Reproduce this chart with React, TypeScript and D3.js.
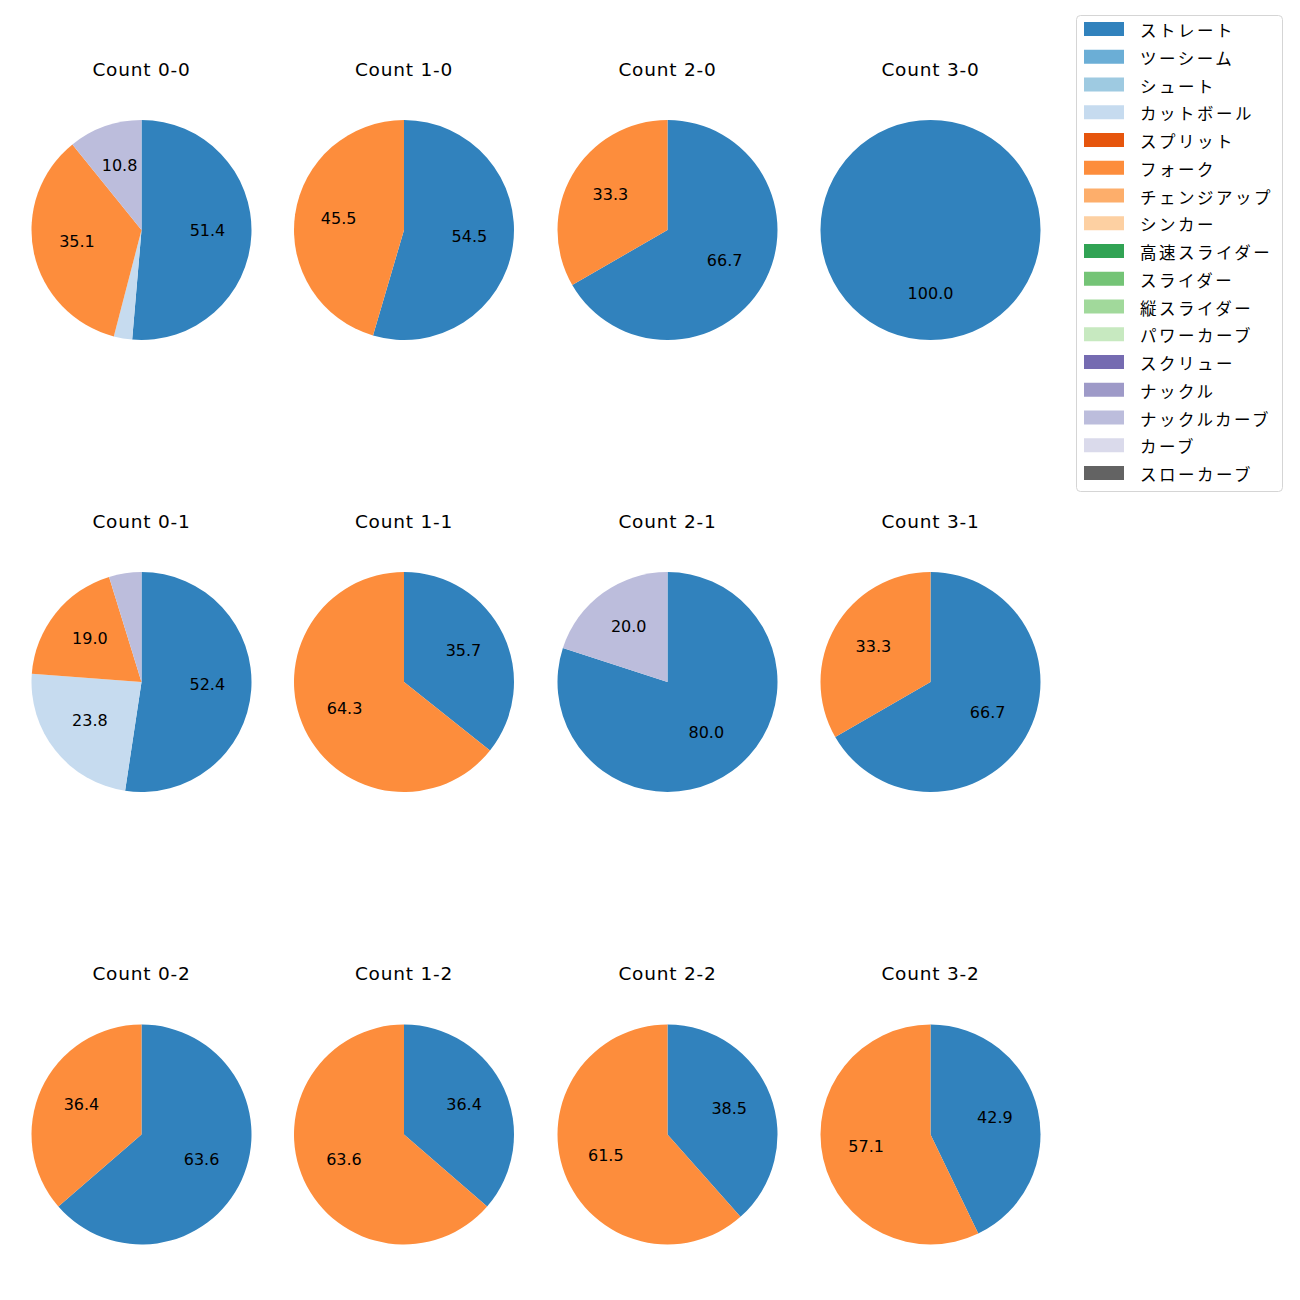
import React from "react";
import * as d3 from "d3";

const pitchTypes = [
  "ストレート", "ツーシーム", "シュート", "カットボール", "スプリット", "フォーク",
  "チェンジアップ", "シンカー", "高速スライダー", "スライダー", "縦スライダー",
  "パワーカーブ", "スクリュー", "ナックル", "ナックルカーブ", "カーブ", "スローカーブ",
];
const pitchColors = [
  "#3182bd", "#6baed6", "#9ecae1", "#c6dbef", "#e6550d", "#fd8d3c", "#fdae6b",
  "#fdd0a2", "#31a354", "#74c476", "#a1d99b", "#c7e9c0", "#756bb1", "#9e9ac8",
  "#bcbddc", "#dadaeb", "#636363",
];

const countTitles = [
  "Count 0-0", "Count 1-0", "Count 2-0", "Count 3-0",
  "Count 0-1", "Count 1-1", "Count 2-1", "Count 3-1",
  "Count 0-2", "Count 1-2", "Count 2-2", "Count 3-2",
];
// pitch counts per count situation (slices in legend order, clockwise from top)
const countPitches: { type: string; n: number }[][] = [
  [{ type: "ストレート", n: 19 }, { type: "カットボール", n: 1 }, { type: "フォーク", n: 13 }, { type: "ナックルカーブ", n: 4 }],
  [{ type: "ストレート", n: 6 }, { type: "フォーク", n: 5 }],
  [{ type: "ストレート", n: 2 }, { type: "フォーク", n: 1 }],
  [{ type: "ストレート", n: 1 }],
  [{ type: "ストレート", n: 11 }, { type: "カットボール", n: 5 }, { type: "フォーク", n: 4 }, { type: "ナックルカーブ", n: 1 }],
  [{ type: "ストレート", n: 5 }, { type: "フォーク", n: 9 }],
  [{ type: "ストレート", n: 4 }, { type: "ナックルカーブ", n: 1 }],
  [{ type: "ストレート", n: 2 }, { type: "フォーク", n: 1 }],
  [{ type: "ストレート", n: 7 }, { type: "フォーク", n: 4 }],
  [{ type: "ストレート", n: 4 }, { type: "フォーク", n: 7 }],
  [{ type: "ストレート", n: 5 }, { type: "フォーク", n: 8 }],
  [{ type: "ストレート", n: 3 }, { type: "フォーク", n: 4 }],
];

const colCenters = [141.5, 404, 667.5, 930.5];
const rowCenters = [230, 682, 1134.5];
const R = 110;
const JP_FONT = "'Noto Sans CJK JP', 'Noto Sans', sans-serif";
const LATIN_FONT = "'DejaVu Sans', sans-serif";

const color = d3.scaleOrdinal<string, string>().domain(pitchTypes).range(pitchColors);

export default function App() {
  const pie = d3
    .pie<{ type: string; n: number }>()
    .value((d) => d.n)
    .sort(null)
    .startAngle(0)
    .endAngle(2 * Math.PI);
  const arc = d3.arc<d3.PieArcDatum<{ type: string; n: number }>>().innerRadius(0).outerRadius(R);
  const labelArc = d3.arc<d3.PieArcDatum<{ type: string; n: number }>>().innerRadius(R * 0.6).outerRadius(R * 0.6);

  return (
    <svg width={1300} height={1300} style={{ position: "absolute", left: 0, top: 0 }}>
      <rect width={1300} height={1300} fill="#fff" />
      {countPitches.map((data, i) => {
        const cx = colCenters[i % 4];
        const cy = rowCenters[Math.floor(i / 4)];
        const total = d3.sum(data, (d) => d.n);
        const arcs = pie(data);
        return (
          <g key={i}>
            <text x={cx} y={cy - 154.5} textAnchor="middle" fontSize={18.5} letterSpacing={0.8} fontFamily={LATIN_FONT} fill="#000">
              {countTitles[i]}
            </text>
            <g transform={`translate(${cx},${cy})`}>
              {arcs.map((a, j) => (
                <path key={j} d={arc(a) || ""} fill={color(a.data.type)} />
              ))}
              {arcs.map((a, j) => {
                const pct = (a.data.n / total) * 100;
                if (pct < 5) return null;
                const [lx, ly] = labelArc.centroid(a);
                return (
                  <text key={"t" + j} x={lx} y={ly + 3} textAnchor="middle" fontSize={16} fontFamily={LATIN_FONT} fill="#000">
                    {pct.toFixed(1)}
                  </text>
                );
              })}
            </g>
          </g>
        );
      })}
      <g fontFamily={JP_FONT}>
        <rect x={1076.5} y={15.5} width={206} height={476} rx={4} fill="#fff" stroke="#d5d5d5" />
        {pitchTypes.map((t, i) => {
          const y = 29 + i * 27.75;
          return (
            <g key={t}>
              <rect x={1084} y={y - 7} width={40} height={14} fill={color(t)} />
              <text x={1140} y={y + 1} dominantBaseline="central" fontSize={16.5} letterSpacing={2.5} fill="#000">
                {t}
              </text>
            </g>
          );
        })}
      </g>
    </svg>
  );
}
